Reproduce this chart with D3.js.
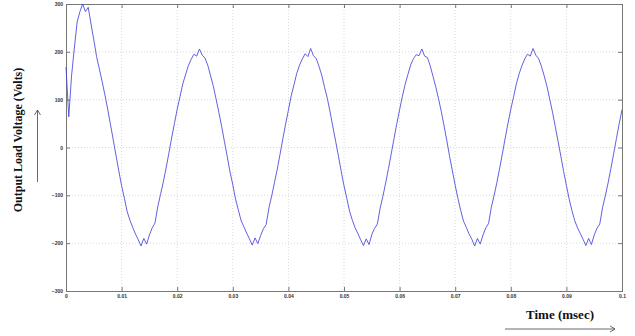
<!DOCTYPE html>
<html>
<head>
<meta charset="utf-8">
<script src="https://cdn.jsdelivr.net/npm/d3@7"></script>
<style>
  body { margin: 0; background: #fff; }
  svg { display: block; }
</style>
</head>
<body>
<svg class="chart" width="635" height="336"></svg>
<script>

// samples every 0.0005 s
const sampleStep = 0.0005;

const voltage = [
  168, 64, 150, 208, 262, 284, 300, 284, 293, 258, 225, 190, 164, 138, 110, 80, 48, 16, -17, -49,
  -80, -106, -134, -152, -167, -181, -193, -206, -190, -202, -183, -168, -158, -124, -98, -72, -43, -12, 20, 50,
  80, 106, 133, 152, 171, 184, 195, 191, 206, 193, 187, 172, 150, 128, 101, 73, 44, 12, -19, -51,
  -78, -108, -131, -153, -166, -179, -191, -204, -189, -201, -184, -170, -161, -126, -101, -73, -45, -14, 18, 49,
  78, 108, 131, 155, 172, 185, 196, 190, 207, 192, 186, 170, 151, 126, 103, 74, 43, 13, -18, -50,
  -80, -106, -133, -152, -168, -180, -193, -205, -191, -203, -182, -169, -160, -127, -102, -74, -44, -13, 19, 50,
  79, 107, 132, 153, 173, 186, 194, 192, 206, 191, 188, 171, 149, 127, 102, 75, 45, 14, -19, -49,
  -79, -107, -132, -154, -167, -181, -192, -206, -190, -202, -183, -168, -159, -125, -100, -73, -43, -12, 20, 51,
  80, 106, 133, 154, 171, 185, 195, 191, 207, 193, 186, 170, 150, 128, 101, 74, 44, 13, -18, -50,
  -79, -108, -132, -153, -168, -180, -192, -205, -190, -203, -183, -169, -160, -126, -101, -74, -44, -13, 19, 50,
  79
];

const xTicks = [0, 0.01, 0.02, 0.03, 0.04, 0.05, 0.06, 0.07, 0.08, 0.09, 0.1];
const xTickLabels = ["0", "0.01", "0.02", "0.03", "0.04", "0.05", "0.06", "0.07", "0.08", "0.09", "0.1"];
const yTicks = [-300, -200, -100, 0, 100, 200, 300];

const yTitle = "Output Load Voltage (Volts)";
const xTitle = "Time (msec)";

const svg = d3.select(".chart");

const plot = { left: 66, right: 622, top: 4, bottom: 291 };

const x = d3.scaleLinear().domain([0, 0.1]).range([plot.left, plot.right]);
const y = d3.scaleLinear().domain([-300, 300]).range([plot.bottom, plot.top]);

// grid
const grid = svg.append("g")
    .attr("stroke", "#c8c8c8")
    .attr("stroke-width", 0.7)
    .attr("stroke-dasharray", "1,2");

grid.selectAll(".gx")
    .data(xTicks.slice(1, -1))
    .join("line")
    .attr("x1", d => x(d)).attr("x2", d => x(d))
    .attr("y1", plot.top).attr("y2", plot.bottom);

grid.selectAll(".gy")
    .data(yTicks.slice(1, -1))
    .join("line")
    .attr("x1", plot.left).attr("x2", plot.right)
    .attr("y1", d => y(d)).attr("y2", d => y(d));

// axes (ticks inward, matlab style)
const fmtX = d => xTickLabels[xTicks.indexOf(d)];

const axB = svg.append("g")
    .attr("transform", `translate(0,${plot.bottom})`)
    .call(d3.axisBottom(x).tickValues(xTicks).tickSize(-4).tickPadding(3).tickFormat(fmtX));

const axT = svg.append("g")
    .attr("transform", `translate(0,${plot.top})`)
    .call(d3.axisTop(x).tickValues(xTicks).tickSize(-4).tickFormat(""));

const axL = svg.append("g")
    .attr("transform", `translate(${plot.left},0)`)
    .call(d3.axisLeft(y).tickValues(yTicks).tickSize(-4).tickPadding(3));

const axR = svg.append("g")
    .attr("transform", `translate(${plot.right},0)`)
    .call(d3.axisRight(y).tickValues(yTicks).tickSize(-4).tickFormat(""));

[axB, axT, axL, axR].forEach(a => {
    a.select(".domain").attr("stroke", "#777").attr("stroke-width", 1);
    a.selectAll(".tick line").attr("stroke", "#777");
    a.selectAll("text")
        .attr("font-family", "Liberation Sans, Arial, sans-serif")
        .attr("font-size", 5)
        .attr("font-weight", "bold")
        .attr("fill", "#333");
});

// trace
const line = d3.line()
    .x((d, i) => x(i * sampleStep))
    .y(d => y(d));

svg.append("path")
    .datum(voltage)
    .attr("fill", "none")
    .attr("stroke", "#4444dd")
    .attr("stroke-width", 0.85)
    .attr("stroke-linejoin", "round")
    .attr("d", line);

// titles
svg.append("text")
    .attr("transform", "translate(22,140) rotate(-90)")
    .attr("text-anchor", "middle")
    .attr("font-family", "Liberation Serif, Times New Roman, serif")
    .attr("font-weight", "bold")
    .attr("font-size", 12)
    .attr("fill", "#111")
    .text(yTitle);

svg.append("text")
    .attr("x", 560)
    .attr("y", 319)
    .attr("text-anchor", "middle")
    .attr("font-family", "Liberation Serif, Times New Roman, serif")
    .attr("font-weight", "bold")
    .attr("font-size", 13)
    .attr("fill", "#111")
    .text(xTitle);

// arrows
const arrows = svg.append("g")
    .attr("stroke", "#444")
    .attr("stroke-width", 0.8)
    .attr("fill", "none");

arrows.append("path").attr("d", "M37.5,182 V110 M34.5,115 L37.5,110 L40.5,115");
arrows.append("path").attr("d", "M505,329 H615 M610,326 L615,329 L610,332");

</script>
</body>
</html>
